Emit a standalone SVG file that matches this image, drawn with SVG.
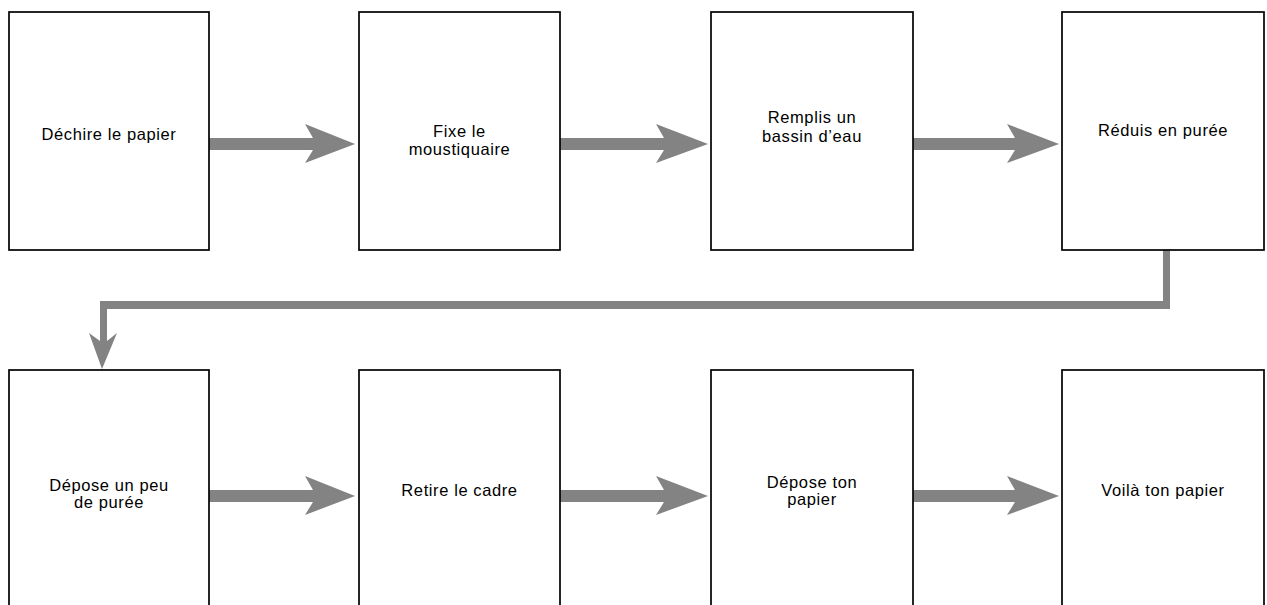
<svg xmlns="http://www.w3.org/2000/svg" width="1267" height="605" viewBox="0 0 1267 605">
<style>
.box{fill:#fff;stroke:#000;stroke-width:1.7}
.lbl{font-family:"Liberation Sans",Arial,sans-serif;font-size:16.5px;letter-spacing:0.6px;fill:#000;text-anchor:middle}
.arr{fill:#838383;stroke:none}
</style>
<rect width="1267" height="605" fill="#fff"/>
<g id="connectors">
<polygon class="arr" points="209,138 313,138 305,124 355,144 305,163 313,150 209,150"/>
<polygon class="arr" points="560,138 664,138 656,124 708,144 656,163 664,150 560,150"/>
<polygon class="arr" points="913,138 1015,138 1007,124 1059,144 1007,163 1015,150 913,150"/>
<polygon class="arr" points="209,490 313,490 305,476 355,496 305,515 313,502 209,502"/>
<polygon class="arr" points="560,490 664,490 656,476 708,496 656,515 664,502 560,502"/>
<polygon class="arr" points="913,490 1015,490 1007,476 1059,496 1007,515 1015,502 913,502"/>
<polygon class="arr" points="1163,250 1170,250 1170,309 107,309 107,341 117,333 102,369 89,333 100,341 100,301 1163,301"/>
</g>
<g id="n1"><rect class="box" x="9" y="12" width="200" height="238"/><text class="lbl" x="109" y="140">Déchire le papier</text></g>
<g id="n2"><rect class="box" x="359" y="12" width="201" height="238"/><text class="lbl" x="459.5" y="137">Fixe le</text><text class="lbl" x="459.5" y="155">moustiquaire</text></g>
<g id="n3"><rect class="box" x="711" y="12" width="202" height="238"/><text class="lbl" x="812" y="123">Remplis un</text><text class="lbl" x="812" y="142">bassin d’eau</text></g>
<g id="n4"><rect class="box" x="1062" y="12" width="202" height="238"/><text class="lbl" x="1163" y="136">Réduis en purée</text></g>
<g id="n5"><rect class="box" x="9" y="370" width="200" height="270"/><text class="lbl" x="109" y="491">Dépose un peu</text><text class="lbl" x="109" y="508">de purée</text></g>
<g id="n6"><rect class="box" x="359" y="370" width="201" height="270"/><text class="lbl" x="459.5" y="496">Retire le cadre</text></g>
<g id="n7"><rect class="box" x="711" y="370" width="202" height="270"/><text class="lbl" x="812" y="488">Dépose ton</text><text class="lbl" x="812" y="505">papier</text></g>
<g id="n8"><rect class="box" x="1062" y="370" width="202" height="270"/><text class="lbl" x="1163" y="496">Voilà ton papier</text></g>
</svg>
